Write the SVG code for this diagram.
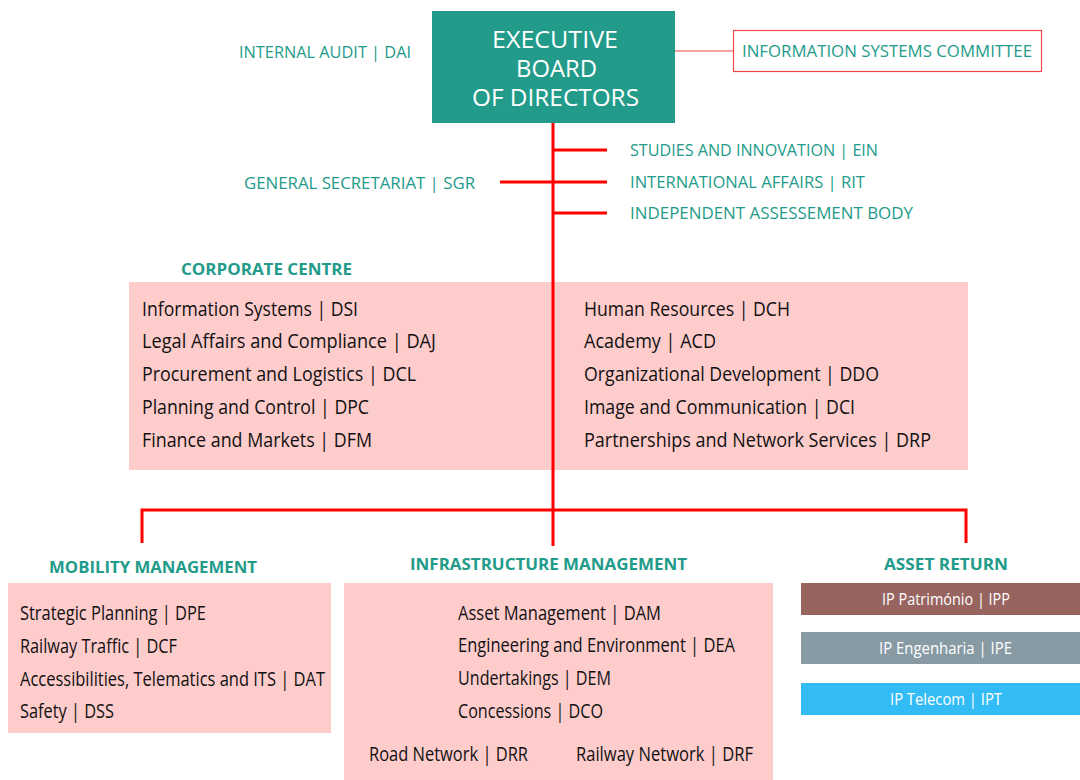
<svg xmlns="http://www.w3.org/2000/svg" width="1080" height="780" viewBox="0 0 1080 780">
<style>
  text { font-family: "Open Sans", "Noto Sans", "Liberation Sans", sans-serif; }
  .teal { fill: #229b8a; font-size: 16px; }
  .head { fill: #229b8a; font-size: 15.5px; font-weight: bold; }
  .item { fill: #111; font-size: 19.5px; }
  .exec { fill: #fff; font-size: 23.5px; }
  .sub { fill: #fff; font-size: 16px; }
  .pink { fill: #ffcccc; }
  .thick { stroke: #ff0000; stroke-width: 3; fill: none; }
</style>
<rect width="1080" height="780" fill="#fff"/>
<g id="connectors">
  <line x1="675" y1="51" x2="733" y2="51" stroke="#f04848" stroke-width="1.2"/>
  <line class="thick" x1="553" y1="123" x2="553" y2="546"/>
  <line class="thick" x1="553" y1="150" x2="607" y2="150"/>
  <line class="thick" x1="500" y1="182" x2="607" y2="182"/>
  <line class="thick" x1="553" y1="213" x2="607" y2="213"/>
  <polyline class="thick" points="142,543 142,510 966,510 966,543"/>
</g>
<g id="exec">
  <rect x="432" y="11" width="243" height="112" fill="#229b8a"/>
  <text class="exec" x="492" y="47.5" textLength="126" lengthAdjust="spacingAndGlyphs">EXECUTIVE</text>
  <text class="exec" x="516" y="76.5" textLength="81" lengthAdjust="spacingAndGlyphs">BOARD</text>
  <text class="exec" x="472" y="105.5" textLength="167" lengthAdjust="spacingAndGlyphs">OF DIRECTORS</text>
</g>
<g id="isc">
  <rect x="733.5" y="30.5" width="308" height="41" fill="#fff" stroke="#f04848" stroke-width="1.2"/>
  <text class="teal" x="742" y="57" textLength="290" lengthAdjust="spacingAndGlyphs">INFORMATION SYSTEMS COMMITTEE</text>
</g>
<g id="audit"><text class="teal" x="239" y="58" textLength="172" lengthAdjust="spacingAndGlyphs">INTERNAL AUDIT | DAI</text></g>
<g id="ein"><text class="teal" x="630" y="156" textLength="248" lengthAdjust="spacingAndGlyphs">STUDIES AND INNOVATION | EIN</text></g>
<g id="rit"><text class="teal" x="630" y="188" textLength="235" lengthAdjust="spacingAndGlyphs">INTERNATIONAL AFFAIRS | RIT</text></g>
<g id="iab"><text class="teal" x="630" y="219" textLength="283" lengthAdjust="spacingAndGlyphs">INDEPENDENT ASSESSEMENT BODY</text></g>
<g id="sgr"><text class="teal" x="244" y="189" textLength="231" lengthAdjust="spacingAndGlyphs">GENERAL SECRETARIAT | SGR</text></g>
<g id="corporate">
  <text class="head" x="181" y="275" textLength="171" lengthAdjust="spacingAndGlyphs">CORPORATE CENTRE</text>
  <rect class="pink" x="129" y="282" width="839" height="188"/>
  <line class="thick" x1="553" y1="282" x2="553" y2="470"/>
  <text class="item" x="142" y="316" textLength="216" lengthAdjust="spacingAndGlyphs">Information Systems | DSI</text>
  <text class="item" x="142" y="348" textLength="294" lengthAdjust="spacingAndGlyphs">Legal Affairs and Compliance | DAJ</text>
  <text class="item" x="142" y="381" textLength="274" lengthAdjust="spacingAndGlyphs">Procurement and Logistics | DCL</text>
  <text class="item" x="142" y="414" textLength="227" lengthAdjust="spacingAndGlyphs">Planning and Control | DPC</text>
  <text class="item" x="142" y="447" textLength="230" lengthAdjust="spacingAndGlyphs">Finance and Markets | DFM</text>
  <text class="item" x="584" y="316" textLength="206" lengthAdjust="spacingAndGlyphs">Human Resources | DCH</text>
  <text class="item" x="584" y="348" textLength="132" lengthAdjust="spacingAndGlyphs">Academy | ACD</text>
  <text class="item" x="584" y="381" textLength="295" lengthAdjust="spacingAndGlyphs">Organizational Development | DDO</text>
  <text class="item" x="584" y="414" textLength="271" lengthAdjust="spacingAndGlyphs">Image and Communication | DCI</text>
  <text class="item" x="584" y="447" textLength="347" lengthAdjust="spacingAndGlyphs">Partnerships and Network Services | DRP</text>
</g>
<g id="mobility">
  <text class="head" x="49" y="573" textLength="208" lengthAdjust="spacingAndGlyphs">MOBILITY MANAGEMENT</text>
  <rect class="pink" x="8" y="583" width="323" height="150"/>
  <text class="item" x="20" y="620" textLength="186" lengthAdjust="spacingAndGlyphs">Strategic Planning | DPE</text>
  <text class="item" x="20" y="653" textLength="157" lengthAdjust="spacingAndGlyphs">Railway Traffic | DCF</text>
  <text class="item" x="20" y="686" textLength="305" lengthAdjust="spacingAndGlyphs">Accessibilities, Telematics and ITS | DAT</text>
  <text class="item" x="20" y="718" textLength="94" lengthAdjust="spacingAndGlyphs">Safety | DSS</text>
</g>
<g id="infrastructure">
  <text class="head" x="410" y="570" textLength="277" lengthAdjust="spacingAndGlyphs">INFRASTRUCTURE MANAGEMENT</text>
  <rect class="pink" x="344" y="583" width="429" height="197"/>
  <text class="item" x="458" y="620" textLength="203" lengthAdjust="spacingAndGlyphs">Asset Management | DAM</text>
  <text class="item" x="458" y="652" textLength="277" lengthAdjust="spacingAndGlyphs">Engineering and Environment | DEA</text>
  <text class="item" x="458" y="685" textLength="153" lengthAdjust="spacingAndGlyphs">Undertakings | DEM</text>
  <text class="item" x="458" y="718" textLength="145" lengthAdjust="spacingAndGlyphs">Concessions | DCO</text>
  <text class="item" x="369" y="761" textLength="159" lengthAdjust="spacingAndGlyphs">Road Network | DRR</text>
  <text class="item" x="576" y="761" textLength="177" lengthAdjust="spacingAndGlyphs">Railway Network | DRF</text>
</g>
<g id="asset">
  <text class="head" x="884" y="570" textLength="124" lengthAdjust="spacingAndGlyphs">ASSET RETURN</text>
  <rect x="801" y="583" width="279" height="32" fill="#976460"/>
  <text class="sub" x="882" y="605" textLength="128" lengthAdjust="spacingAndGlyphs">IP Património | IPP</text>
  <rect x="801" y="632" width="279" height="32" fill="#889ba5"/>
  <text class="sub" x="879" y="654" textLength="133" lengthAdjust="spacingAndGlyphs">IP Engenharia | IPE</text>
  <rect x="801" y="683" width="279" height="32" fill="#33bbf5"/>
  <text class="sub" x="890" y="705" textLength="112" lengthAdjust="spacingAndGlyphs">IP Telecom | IPT</text>
</g>
</svg>
